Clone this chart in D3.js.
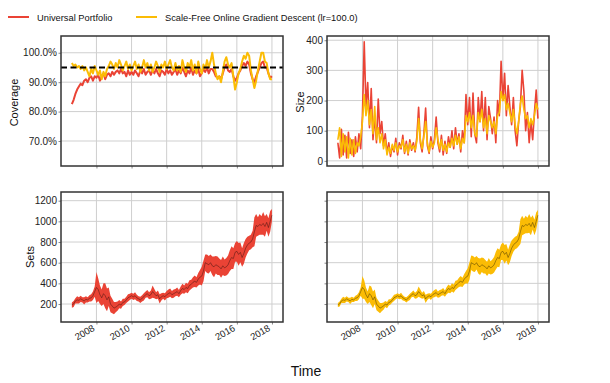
<!DOCTYPE html>
<html>
<head>
<meta charset="utf-8">
<script src="https://cdn.jsdelivr.net/npm/d3@7"></script>
<style>
  body { margin: 0; background: #fff; }
  svg { font-family: 'Liberation Sans', Arial, Helvetica, sans-serif; }
  .grid line { stroke: #cfcfcf; stroke-width: 1; }
  .frame { fill: none; stroke: #333; stroke-width: 1.5; }
  .axis text { font-size: 10px; fill: #222; }
  .axis line { stroke: #888; }
</style>
</head>
<body>
<svg width="610" height="383"></svg>
<script>
const width = 610,
  height = 383

// one sample every 0.1 year, starting mid 2006
const start = 2006.6,
  step = 0.1

const years = [2008, 2010, 2012, 2014, 2016, 2018]
const coverageTicks = [70, 80, 90, 100]
const sizeTicks = [0, 100, 200, 300, 400]
const setsTicks = [200, 400, 600, 800, 1000, 1200]

const seriesNames = ['Universal Portfolio', 'Scale-Free Online Gradient Descent (lr=100.0)']
const colors = ['#EA4335', '#FBBC05']

const coverageUP = [
  82.5, 84, 86, 87.5, 88.5, 89.5, 89, 90.5, 91, 90, 91.5, 92, 90.5, 92,
  91.5, 92.5, 90.5, 92, 93, 91, 92.5, 93, 92, 93.5,
  92.5, 93.5, 94, 93, 94.5, 93, 93.5, 92, 94, 92.5,
  93.5, 92.5, 94, 93, 92, 94, 93, 94.5, 92.5, 93.5,
  94, 92.5, 94, 93, 94.5, 93, 92, 94, 93.5, 92.5,
  94.5, 93, 94, 92.5, 93.5, 94.5, 92.5, 94, 93, 95,
  93.5, 92, 94, 93, 95, 92.5, 94, 93, 94.5, 92,
  93, 94.5, 93.5, 95, 93, 94.5, 94.5, 93.5, 92, 91.5,
  92, 91, 93, 95, 96, 94, 93.5, 94.5, 92, 90.5,
  91.5, 93, 94, 95.5, 96.5, 95.5, 97, 96, 93, 91,
  90, 92, 93.5, 95, 96.5, 97, 95, 95, 93, 91.5,
  92
]

const coverageSF = [
  96.5, 95.5, 96, 95, 95.5, 94.5, 95.5, 94, 95, 93.5, 92, 94.5, 93, 95.5,
  94, 92.5, 94, 91, 93.5, 92, 94.5, 95.5, 97, 96,
  94.5, 96.5, 95, 97.5, 96, 94, 95.5, 97, 94.5, 96,
  94, 95.5, 97, 94.5, 96, 93.5, 95, 97.5, 95, 96.5,
  94, 96, 93.5, 95, 97, 95.5, 93.5, 96, 95, 97,
  94.5, 96, 97.5, 95, 94, 96.5, 94, 95.5, 93.5, 97.5,
  95, 93.5, 96.5, 95, 97.5, 94, 96, 93, 97, 94.5,
  93, 96, 94.5, 97.5, 95, 97, 100, 96, 93, 91,
  92, 90, 93.5, 97, 98.5, 96, 95, 96.5, 92, 87.5,
  90, 93, 94.5, 97, 99, 98, 100, 99, 94, 91,
  88, 90.5, 94, 97, 100, 100, 97, 96.5, 93, 91,
  91
]

const sizeUP = [
  60, 10, 105, 20, 85, 10, 95, 25, 70, 15, 80, 30, 90, 40,
  150, 395, 180, 260, 110, 240, 70, 150, 60, 205,
  90, 130, 50, 90, 25, 60, 15, 50, 30, 75,
  20, 60, 40, 85, 25, 65, 20, 70, 35, 60,
  30, 80, 178, 60, 30, 90, 175, 50, 25, 80,
  40, 70, 145, 60, 30, 85, 20, 65, 25, 80,
  45, 100, 40, 110, 55, 90, 30, 100, 60, 220,
  120, 210, 80, 225, 90, 60, 210, 130, 230, 100,
  210, 70, 180, 140, 90, 145, 60, 200, 150, 330,
  200, 290, 150, 250, 180, 120, 210, 100, 50, 130,
  180, 300, 230, 100, 160, 60, 130, 70, 160, 235,
  140
]

const sizeSF = [
  70, 110, 15, 90, 30, 80, 10, 75, 20, 70, 25, 60, 50, 80,
  130, 220, 150, 200, 120, 170, 90, 180, 70, 110,
  60, 90, 40, 70, 20, 45, 25, 55, 35, 60,
  30, 50, 45, 70, 30, 55, 25, 60, 40, 50,
  35, 65, 140, 70, 40, 80, 130, 60, 30, 65,
  45, 60, 110, 70, 40, 70, 35, 55, 30, 60,
  45, 75, 50, 85, 55, 80, 40, 75, 60, 150,
  130, 160, 110, 150, 90, 80, 160, 130, 170, 110,
  140, 90, 150, 130, 110, 130, 90, 150, 160, 230,
  200, 220, 170, 190, 160, 130, 170, 120, 90, 130,
  190, 215, 170, 140, 150, 110, 140, 120, 150, 190,
  170
]

// centre of the prediction sets, shared by both methods
const setsMid = [
  190, 200, 230, 240, 235, 250, 240, 230, 245, 240, 255, 260, 280, 320,
  360, 340, 290, 260, 300, 280, 240, 270, 200, 180,
  160, 170, 180, 200, 190, 215, 220, 240, 260, 270,
  280, 270, 280, 260, 250, 240, 255, 270, 290, 300,
  280, 290, 320, 300, 280, 290, 250, 270, 280, 270,
  290, 300, 310, 290, 300, 310, 320, 300, 330, 350,
  340, 360, 350, 380, 390, 410, 420, 410, 440, 460,
  470, 520, 600, 590, 580, 600, 570, 560, 580, 570,
  560, 540, 570, 550, 560, 580, 620, 650, 640, 700,
  710, 680, 700, 650, 690, 740, 770, 790, 800, 830,
  900, 960, 950, 970, 960, 980, 950, 990, 940, 1000,
  1060
]

// half width of each set
const setsHalfUP = [
  25, 30, 25, 35, 30, 30, 25, 35, 30, 25, 30, 35, 40, 50,
  150, 110, 90, 80, 100, 120, 110, 90, 80, 70,
  60, 50, 45, 40, 35, 35, 30, 30, 35, 30,
  30, 30, 35, 30, 25, 30, 30, 35, 30, 35,
  35, 40, 60, 45, 35, 40, 45, 35, 30, 35,
  35, 40, 40, 35, 40, 35, 40, 35, 40, 45,
  40, 45, 45, 50, 45, 50, 55, 50, 60, 70,
  90, 100, 80, 90, 85, 80, 90, 100, 85, 90,
  80, 85, 90, 80, 85, 90, 100, 110, 100, 90,
  100, 110, 95, 90, 100, 90, 80, 70, 70, 80,
  140, 110, 90, 100, 90, 110, 100, 80, 90, 100,
  60
]

const setsHalfSF = [
  20, 25, 20, 30, 25, 25, 20, 30, 25, 20, 25, 30, 35, 40,
  110, 90, 70, 60, 80, 90, 80, 70, 60, 55,
  50, 40, 35, 30, 30, 30, 25, 25, 30, 25,
  25, 25, 30, 25, 20, 25, 25, 30, 25, 30,
  30, 35, 50, 40, 30, 35, 40, 30, 25, 30,
  30, 35, 35, 30, 35, 30, 35, 30, 35, 40,
  35, 40, 40, 45, 40, 45, 50, 45, 50, 60,
  75, 85, 70, 75, 70, 65, 75, 80, 70, 75,
  65, 70, 75, 65, 70, 75, 85, 90, 85, 75,
  85, 90, 80, 75, 85, 75, 65, 60, 60, 70,
  120, 95, 75, 85, 75, 90, 85, 70, 75, 85,
  50
]

let times = d3.range(setsMid.length).map(i => start + i * step)
let xDomain = [2005.98, 2018.63]

let svg = d3.select('svg')
  .attr('viewBox', `0 0 ${width} ${height}`)

let clipCount = 0

function makePanel(box, yDomain, yTicks, opts) {
  let x = d3.scaleLinear().domain(xDomain).range([box.x0, box.x1])
  let y = d3.scaleLinear().domain(yDomain).range([box.y1, box.y0])
  let g = svg.append('g')

  let clipId = 'clip' + clipCount++
  g.append('clipPath')
    .attr('id', clipId)
    .append('rect')
    .attr('x', box.x0)
    .attr('y', box.y0)
    .attr('width', box.x1 - box.x0)
    .attr('height', box.y1 - box.y0)

  let grid = g.append('g').attr('class', 'grid')
  grid.selectAll('line.gx')
    .data(years)
    .join('line')
      .attr('class', 'gx')
      .attr('x1', d => x(d)).attr('x2', d => x(d))
      .attr('y1', box.y0).attr('y2', box.y1)
  grid.selectAll('line.gy')
    .data(yTicks)
    .join('line')
      .attr('class', 'gy')
      .attr('x1', box.x0).attr('x2', box.x1)
      .attr('y1', d => y(d)).attr('y2', d => y(d))

  let plot = g.append('g').attr('clip-path', `url(#${clipId})`)

  let yAxis = g.append('g')
    .attr('class', 'axis')
    .attr('transform', `translate(${box.x0},0)`)
    .call(d3.axisLeft(y).tickValues(yTicks).tickSize(2.5).tickPadding(1.5)
      .tickFormat(opts.yFormat || d3.format('d')))
  yAxis.select('.domain').remove()
  if (!opts.yLabels) yAxis.selectAll('text').remove()

  let xAxis = g.append('g')
    .attr('class', 'axis')
    .attr('transform', `translate(0,${box.y1})`)
    .call(d3.axisBottom(x).tickValues(years).tickSize(2.5).tickFormat(d3.format('d')))
  xAxis.select('.domain').remove()
  if (opts.xLabels) {
    xAxis.selectAll('text')
      .attr('x', 0).attr('y', 0).attr('dy', 0)
      .attr('text-anchor', 'end')
      .style('font-size', '9.5px')
      .attr('transform', 'translate(-1.5,8) rotate(-30)')
  } else {
    xAxis.selectAll('text').remove()
  }

  return { g, plot, x, y, box }
}

function addFrame(p) {
  p.g.append('rect')
    .attr('class', 'frame')
    .attr('x', p.box.x0)
    .attr('y', p.box.y0)
    .attr('width', p.box.x1 - p.box.x0)
    .attr('height', p.box.y1 - p.box.y0)
}

function drawLine(p, values, color, w) {
  let line = d3.line()
    .x((d, i) => p.x(times[i]))
    .y(d => p.y(d))
  p.plot.append('path')
    .datum(values)
    .attr('d', line)
    .attr('fill', 'none')
    .attr('stroke', color)
    .attr('stroke-width', w)
    .attr('stroke-linejoin', 'round')
}

function drawBand(p, mid, half, color) {
  let area = d3.area()
    .x((d, i) => p.x(times[i]))
    .y0((d, i) => p.y(d - half[i]))
    .y1((d, i) => p.y(d + half[i]))
  p.plot.append('path')
    .datum(mid)
    .attr('d', area)
    .attr('fill', color)
  let line = d3.line()
    .x((d, i) => p.x(times[i]))
    .y(d => p.y(d))
  p.plot.append('path')
    .datum(mid)
    .attr('d', line)
    .attr('fill', 'none')
    .attr('stroke', '#000')
    .attr('stroke-opacity', 0.35)
    .attr('stroke-width', 1)
}

// coverage
let cov = makePanel({ x0: 61, x1: 283, y0: 36, y1: 166 }, [61.5, 105.7], coverageTicks,
  { yLabels: true, yFormat: d => d3.format('.1f')(d) + '%' })
drawLine(cov, coverageUP, colors[0], 2)
drawLine(cov, coverageSF, colors[1], 2)
cov.plot.append('line')
  .attr('x1', cov.box.x0).attr('x2', cov.box.x1)
  .attr('y1', cov.y(95)).attr('y2', cov.y(95))
  .attr('stroke', '#000')
  .attr('stroke-width', 2)
  .attr('stroke-dasharray', '6,3.5')
addFrame(cov)

// size
let size = makePanel({ x0: 327, x1: 549, y0: 36, y1: 166 }, [-17, 414], sizeTicks, { yLabels: true })
drawLine(size, sizeUP, colors[0], 1.6)
drawLine(size, sizeSF, colors[1], 1.6)
addFrame(size)

// sets
let setsL = makePanel({ x0: 61, x1: 283, y0: 192, y1: 322 }, [26, 1284], setsTicks, { yLabels: true, xLabels: true })
drawBand(setsL, setsMid, setsHalfUP, colors[0])
addFrame(setsL)

let setsR = makePanel({ x0: 327, x1: 549, y0: 192, y1: 322 }, [26, 1284], setsTicks, { yLabels: false, xLabels: true })
drawBand(setsR, setsMid, setsHalfSF, colors[1])
addFrame(setsR)

// axis titles
let titles = [
  { text: 'Coverage', x: 18, y: 102.5 },
  { text: 'Size', x: 303.5, y: 102 },
  { text: 'Sets', x: 33.5, y: 257 }
]
svg.selectAll('text.ytitle')
  .data(titles)
  .join('text')
    .attr('class', 'ytitle')
    .attr('transform', d => `translate(${d.x},${d.y}) rotate(-90)`)
    .attr('text-anchor', 'middle')
    .style('font-size', '11px')
    .attr('fill', '#111')
    .text(d => d.text)

svg.append('text')
  .attr('x', 306)
  .attr('y', 376)
  .attr('text-anchor', 'middle')
  .style('font-size', '14px')
  .attr('fill', '#111')
  .text('Time')

// legend
let legendX = [8, 136]
let legend = svg.selectAll('g.legend')
  .data(seriesNames)
  .join('g')
    .attr('class', 'legend')
    .attr('transform', (d, i) => `translate(${legendX[i]},17)`)
legend.append('line')
  .attr('x1', 0).attr('x2', 21)
  .attr('stroke', (d, i) => colors[i])
  .attr('stroke-width', 2)
legend.append('text')
  .attr('x', 29)
  .attr('y', 3.5)
  .style('font-size', '9.3px')
  .attr('fill', '#111')
  .text(d => d)
</script>
</body>
</html>
